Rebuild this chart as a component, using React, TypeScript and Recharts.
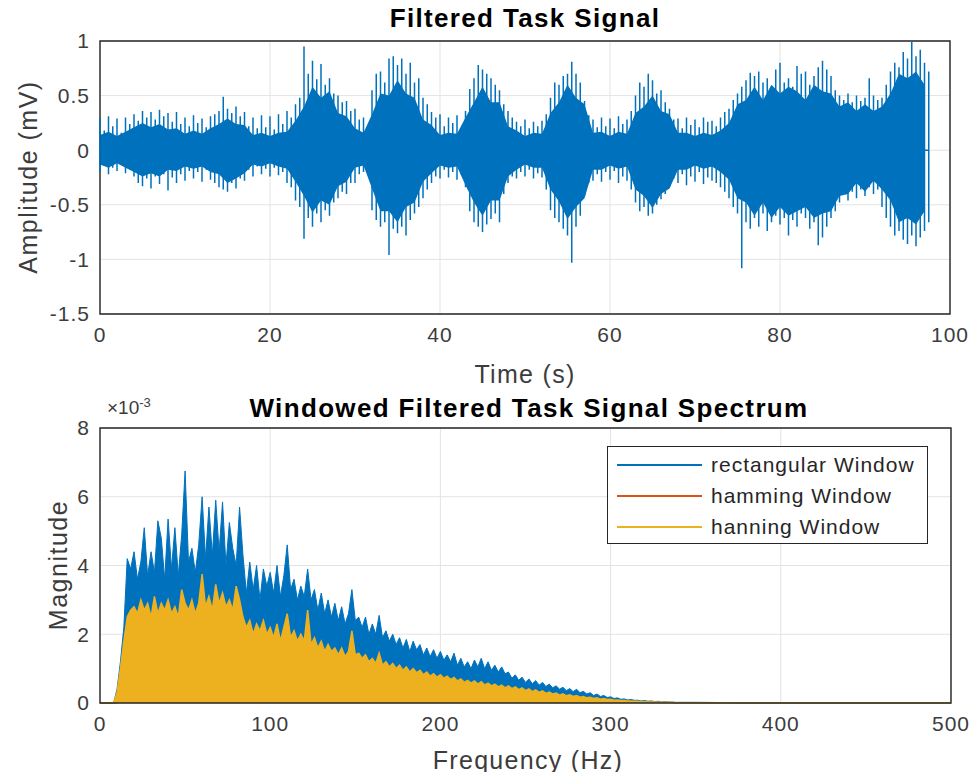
import React from "react";
import {
  ComposedChart,
  Area,
  Line,
  XAxis,
  YAxis,
  CartesianGrid,
  ReferenceArea,
  Legend,
} from "recharts";

const BLUE = "#0072BD";
const ORANGE = "#D95319";
const YELLOW = "#EDB120";
const FONT = '"Liberation Sans", Arial, Helvetica, sans-serif';

// ---- Filtered task signal (mV) ----
const timeTicks = [0, 20, 40, 60, 80, 100];
const ampTicks = [-1.5, -1, -0.5, 0, 0.5, 1];

// spike peaks, one every 0.5 s (t = 0 .. 97.5)
const spikeHi = [
  0.30, 0.18, 0.31, 0.22, 0.29, 0.16, 0.30, 0.24, 0.33, 0.27,
  0.36, 0.30, 0.35, 0.28, 0.37, 0.31, 0.34, 0.26, 0.35, 0.24,
  0.30, 0.22, 0.32, 0.25, 0.29, 0.21, 0.31, 0.33, 0.36, 0.49,
  0.38, 0.34, 0.40, 0.31, 0.35, 0.22, 0.30, 0.20, 0.32, 0.21,
  0.31, 0.19, 0.33, 0.24, 0.36, 0.30, 0.42, 0.48, 0.95, 0.70,
  0.82, 0.65, 0.79, 0.60, 0.66, 0.52, 0.50, 0.44, 0.45, 0.36,
  0.38, 0.28, 0.30, 0.22, 0.55, 0.70, 0.72, 0.62, 0.84, 0.86,
  0.78, 0.84, 0.70, 0.80, 0.62, 0.66, 0.48, 0.42, 0.35, 0.30,
  0.33, 0.22, 0.30, 0.25, 0.32, 0.20, 0.36, 0.56, 0.66, 0.78,
  0.74, 0.70, 0.66, 0.60, 0.55, 0.42, 0.36, 0.30, 0.26, 0.22,
  0.28, 0.20, 0.26, 0.22, 0.27, 0.33, 0.48, 0.62, 0.60, 0.68,
  0.70, 0.81, 0.70, 0.62, 0.45, 0.32, 0.28, 0.21, 0.30, 0.22,
  0.29, 0.20, 0.31, 0.24, 0.28, 0.36, 0.50, 0.62, 0.58, 0.70,
  0.64, 0.52, 0.55, 0.44, 0.38, 0.28, 0.29, 0.20, 0.30, 0.23,
  0.28, 0.21, 0.30, 0.26, 0.27, 0.22, 0.30, 0.35, 0.38, 0.46,
  0.52, 0.58, 0.64, 0.71, 0.68, 0.72, 0.62, 0.66, 0.58, 0.74,
  0.80, 0.62, 0.66, 0.58, 0.77, 0.70, 0.72, 0.60, 0.68, 0.76,
  0.82, 0.74, 0.68, 0.55, 0.50, 0.46, 0.52, 0.44, 0.50, 0.45,
  0.48, 0.66, 0.50, 0.46, 0.48, 0.60, 0.72, 0.80, 0.76, 0.90,
  0.84, 0.99, 0.86, 0.92, 0.80, 0.72,
];

const spikeLo = [
  -0.20, -0.14, -0.22, -0.16, -0.19, -0.13, -0.21, -0.17, -0.24, -0.30,
  -0.33, -0.26, -0.35, -0.24, -0.31, -0.22, -0.37, -0.25, -0.30, -0.22,
  -0.28, -0.19, -0.26, -0.20, -0.29, -0.18, -0.27, -0.30, -0.34, -0.36,
  -0.38, -0.30, -0.35, -0.26, -0.28, -0.18, -0.24, -0.15, -0.22, -0.17,
  -0.24, -0.16, -0.23, -0.20, -0.30, -0.34, -0.46, -0.52, -0.81, -0.62,
  -0.70, -0.58, -0.66, -0.55, -0.60, -0.48, -0.44, -0.38, -0.40, -0.30,
  -0.30, -0.22, -0.20, -0.14, -0.55, -0.64, -0.70, -0.66, -0.96, -0.72,
  -0.76, -0.70, -0.78, -0.64, -0.58, -0.52, -0.44, -0.36, -0.30, -0.24,
  -0.26, -0.18, -0.25, -0.20, -0.27, -0.22, -0.34, -0.56, -0.66, -0.70,
  -0.75, -0.68, -0.63, -0.58, -0.66, -0.40, -0.30, -0.24, -0.26, -0.20,
  -0.24, -0.18, -0.26, -0.21, -0.25, -0.36, -0.55, -0.62, -0.66, -0.72,
  -0.78, -1.03, -0.70, -0.60, -0.42, -0.30, -0.28, -0.22, -0.29, -0.20,
  -0.27, -0.19, -0.30, -0.24, -0.28, -0.36, -0.48, -0.56, -0.52, -0.60,
  -0.58, -0.50, -0.45, -0.40, -0.34, -0.26, -0.30, -0.22, -0.32, -0.24,
  -0.29, -0.20, -0.31, -0.25, -0.28, -0.30, -0.34, -0.38, -0.44, -0.52,
  -0.58, -1.08, -0.66, -0.72, -0.62, -0.70, -0.58, -0.74, -0.66, -0.60,
  -0.68, -0.62, -0.78, -0.64, -0.70, -0.58, -0.62, -0.72, -0.66, -0.87,
  -0.80, -0.70, -0.62, -0.56, -0.48, -0.40, -0.46, -0.38, -0.44, -0.36,
  -0.42, -0.34, -0.40, -0.36, -0.52, -0.62, -0.70, -0.78, -0.74, -0.82,
  -0.86, -0.78, -0.88, -0.80, -0.74, -0.66,
];

// dense core of the signal, one value per second (t = 0 .. 97)
const coreHi = [
  0.14, 0.17, 0.13, 0.17, 0.21, 0.25, 0.21, 0.24, 0.19, 0.20,
  0.15, 0.18, 0.15, 0.20, 0.24, 0.29, 0.24, 0.23, 0.14, 0.16,
  0.13, 0.16, 0.17, 0.27, 0.40, 0.58, 0.48, 0.54, 0.34, 0.31,
  0.20, 0.16, 0.33, 0.52, 0.50, 0.64, 0.52, 0.48, 0.28, 0.23,
  0.14, 0.16, 0.15, 0.30, 0.44, 0.58, 0.44, 0.44, 0.22, 0.18,
  0.13, 0.16, 0.15, 0.34, 0.44, 0.60, 0.48, 0.42, 0.16, 0.17,
  0.13, 0.17, 0.15, 0.34, 0.40, 0.50, 0.36, 0.33, 0.16, 0.16,
  0.13, 0.16, 0.14, 0.18, 0.25, 0.42, 0.46, 0.58, 0.46, 0.60,
  0.52, 0.58, 0.54, 0.46, 0.60, 0.54, 0.52, 0.40, 0.44, 0.36,
  0.42, 0.36, 0.40, 0.52, 0.70, 0.66, 0.72, 0.60,
];

const coreLo = [
  -0.13, -0.16, -0.12, -0.16, -0.20, -0.24, -0.21, -0.24, -0.18, -0.19,
  -0.15, -0.17, -0.15, -0.20, -0.22, -0.30, -0.26, -0.21, -0.13, -0.15,
  -0.12, -0.15, -0.17, -0.29, -0.42, -0.57, -0.46, -0.50, -0.33, -0.29,
  -0.16, -0.14, -0.35, -0.56, -0.56, -0.66, -0.52, -0.48, -0.29, -0.21,
  -0.14, -0.16, -0.15, -0.32, -0.48, -0.60, -0.46, -0.46, -0.24, -0.18,
  -0.13, -0.16, -0.16, -0.36, -0.47, -0.63, -0.52, -0.44, -0.18, -0.18,
  -0.14, -0.17, -0.15, -0.36, -0.42, -0.53, -0.40, -0.35, -0.18, -0.18,
  -0.14, -0.17, -0.15, -0.20, -0.27, -0.44, -0.48, -0.60, -0.48, -0.62,
  -0.52, -0.60, -0.56, -0.52, -0.62, -0.58, -0.56, -0.42, -0.40, -0.30,
  -0.38, -0.28, -0.36, -0.46, -0.66, -0.62, -0.68, -0.56,
];

// ---- Spectrum (magnitude x 1e-3), one value every 2 Hz from 0 to 340 Hz ----
const freqTicks = [0, 100, 200, 300, 400, 500];
const magTicks = [0, 2, 4, 6, 8];

const rectMag = [
  0, 0, 0, 0, 0, 0.4, 1.2, 2.2, 4.2, 3.9,
  4.4, 3.6, 4.1, 5.1, 3.7, 4.4, 3.8, 5.3, 4.8, 3.6,
  5.35, 3.9, 5.1, 3.7, 4.9, 6.75, 4.1, 4.5, 3.8, 4.6,
  6.0, 4.2, 5.7, 4.3, 5.9, 4.4, 5.85, 4.0, 5.25, 4.5,
  4.0, 5.7, 4.3, 3.2, 4.1, 3.3, 4.0, 3.0, 3.9, 3.4,
  3.8, 3.2, 4.0, 3.1, 3.7, 4.6, 3.3, 3.6, 3.0, 3.4,
  3.1, 3.9, 3.0, 3.3, 2.7, 3.2, 2.6, 3.0, 2.5, 2.9,
  2.4, 2.8, 2.3, 2.6, 3.3, 2.4, 2.5, 2.2, 2.5, 2.0,
  2.3, 2.0, 2.55, 1.9, 2.1, 1.8, 2.0, 1.7, 1.9, 1.6,
  1.85, 1.5, 1.8, 1.55, 1.7, 1.4, 1.6, 1.35, 1.55, 1.3,
  1.5, 1.25, 1.4, 1.2, 1.45, 1.1, 1.3, 1.05, 1.2, 1.0,
  1.25, 1.05, 1.3, 1.0, 1.2, 0.95, 1.1, 0.9, 1.05, 0.85,
  0.9, 0.72, 0.82, 0.66, 0.75, 0.6, 0.7, 0.56, 0.65, 0.52,
  0.6, 0.48, 0.55, 0.44, 0.5, 0.4, 0.46, 0.36, 0.42, 0.33,
  0.4, 0.3, 0.34, 0.26, 0.3, 0.22, 0.26, 0.19, 0.22, 0.16,
  0.18, 0.13, 0.15, 0.11, 0.12, 0.09, 0.1, 0.08, 0.08, 0.06,
  0.07, 0.05, 0.06, 0.04, 0.05, 0.03, 0.04, 0.03, 0.03, 0.02,
  0.02,
];

const hannMag = [
  0, 0, 0, 0, 0, 0.3, 1.0, 1.8, 2.5, 2.7,
  2.8, 2.6, 3.0, 2.7, 2.9, 2.5, 3.1, 2.6, 2.9, 2.7,
  3.0, 2.6, 2.8, 2.5, 3.3, 2.9, 2.7, 3.0, 2.6, 2.9,
  3.75, 2.8, 3.1, 2.7, 3.45, 2.9, 3.2, 2.8, 3.0, 2.7,
  3.4, 3.0, 2.5, 2.2, 2.4, 2.0, 2.3, 2.1, 2.4, 2.0,
  2.2, 1.9, 2.3, 1.8, 2.2, 2.6, 1.9, 2.1, 1.8, 2.0,
  1.8, 2.7, 1.7, 1.9, 1.6, 1.8, 1.5, 1.7, 1.5, 1.6,
  1.4, 1.6, 1.35, 1.5, 2.1, 1.4, 1.45, 1.3, 1.4, 1.2,
  1.3, 1.15, 1.45, 1.1, 1.2, 1.05, 1.15, 1.0, 1.1, 0.95,
  1.05, 0.9, 1.0, 0.88, 0.95, 0.82, 0.9, 0.78, 0.85, 0.75,
  0.82, 0.72, 0.78, 0.68, 0.74, 0.64, 0.7, 0.6, 0.66, 0.58,
  0.64, 0.55, 0.62, 0.52, 0.58, 0.5, 0.55, 0.47, 0.52, 0.44,
  0.5, 0.42, 0.47, 0.39, 0.44, 0.36, 0.41, 0.33, 0.38, 0.31,
  0.35, 0.28, 0.32, 0.26, 0.29, 0.23, 0.27, 0.21, 0.24, 0.19,
  0.22, 0.17, 0.19, 0.15, 0.17, 0.13, 0.15, 0.11, 0.13, 0.1,
  0.11, 0.08, 0.09, 0.07, 0.07, 0.06, 0.06, 0.05, 0.05, 0.04,
  0.04, 0.03, 0.03, 0.03, 0.02, 0.02, 0.02, 0.02, 0.02, 0.01,
  0.01,
];

// hamming spectrum, one value every 10 Hz from 0 to 340 Hz
const hammMag = [
  0, 0, 2.5, 2.6, 2.6, 2.6, 2.7, 2.7, 2.6, 2.0,
  1.9, 1.8, 1.65, 1.5, 1.35, 1.25, 1.1, 0.98, 0.86, 0.76,
  0.68, 0.6, 0.52, 0.46, 0.4, 0.34, 0.26, 0.21, 0.15, 0.11,
  0.07, 0.05, 0.03, 0.02, 0.01,
];

// near-zero tail above 340 Hz
const tailFreq = [350, 375, 400, 425, 450, 475, 500];
const rectTail = [0.02, 0.01, 0.01, 0.01, 0.01, 0.01, 0.01];
const hammTail = [0.01, 0.01, 0.01, 0.01, 0.01, 0.01, 0.01];
const hannTail = [0.01, 0.01, 0.01, 0.01, 0.01, 0.01, 0.01];

const legendItems = [
  { name: "rectangular Window", color: BLUE },
  { name: "hamming Window", color: ORANGE },
  { name: "hanning Window", color: YELLOW },
];

// ---- tables for recharts ----
const coreData = coreHi.map((h, i) => ({ t: i, core: [coreLo[i], h] }));

const spikeData = spikeHi.flatMap((h, i) => {
  const t = i * 0.5;
  return [
    { t, s: 0 },
    { t, s: h },
    { t, s: spikeLo[i] },
    { t, s: 0 },
  ];
});

const spectrumData = [
  ...rectMag.map((r, i) => ({
    f: i * 2,
    rect: r,
    hann: hannMag[i],
    hamm: i % 5 === 0 ? hammMag[i / 5] : null,
  })),
  ...tailFreq.map((f, i) => ({
    f,
    rect: rectTail[i],
    hann: hannTail[i],
    hamm: hammTail[i],
  })),
];

const W = 977;
const TOP_H = 380;
const BOT_H = 400;
const topMargin = { top: 41, right: 27, bottom: 0, left: 0 };
const botMargin = { top: 48, right: 26, bottom: 0, left: 0 };
const tickStyle = { fontSize: 21, fill: "#3c3c3c", fontFamily: FONT, letterSpacing: 1 };
const GRID = "#e3e3e3";
const BOX = "#262626";

function LegendBox() {
  return (
    <div
      style={{
        width: 321,
        height: 98,
        boxSizing: "border-box",
        border: `1.5px solid ${BOX}`,
        background: "#fff",
        paddingTop: 2,
        paddingLeft: 9,
        fontFamily: FONT,
      }}
    >
      {legendItems.map((it) => (
        <div key={it.name} style={{ display: "flex", alignItems: "center", height: 31 }}>
          <div style={{ width: 85, height: 2, background: it.color, marginRight: 9 }} />
          <span style={{ fontSize: 21, color: "#262626", letterSpacing: 1 }}>{it.name}</span>
        </div>
      ))}
    </div>
  );
}

const abs = (left: number, top: number): React.CSSProperties => ({
  position: "absolute",
  left,
  top,
});

export default function App() {
  return (
    <div
      style={{
        position: "relative",
        width: W,
        height: 780,
        margin: -8,
        background: "#fff",
        fontFamily: FONT,
        overflow: "hidden",
      }}
    >
      {/* top: signal core + axes */}
      <div style={abs(0, 0)}>
        <ComposedChart width={W} height={TOP_H} data={coreData} margin={topMargin}>
          <CartesianGrid stroke={GRID} />
          <XAxis
            dataKey="t"
            type="number"
            domain={[0, 100]}
            ticks={timeTicks}
            interval={0}
            height={66}
            tickSize={0}
            tickMargin={13}
            axisLine={false}
            tick={tickStyle}
          />
          <YAxis
            type="number"
            domain={[-1.5, 1]}
            ticks={ampTicks}
            interval={0}
            width={100}
            tickSize={0}
            tickMargin={10}
            axisLine={false}
            tick={tickStyle}
          />
          <Area
            dataKey="core"
            type="linear"
            stroke="none"
            fill={BLUE}
            fillOpacity={1}
            isAnimationActive={false}
          />
        </ComposedChart>
      </div>

      {/* top: spikes + frame */}
      <div style={abs(0, 0)}>
        <ComposedChart width={W} height={TOP_H} data={spikeData} margin={topMargin}>
          <XAxis
            dataKey="t"
            type="number"
            domain={[0, 100]}
            ticks={timeTicks}
            height={66}
            tick={false}
            tickLine={false}
            axisLine={false}
          />
          <YAxis
            type="number"
            domain={[-1.5, 1]}
            ticks={ampTicks}
            width={100}
            tick={false}
            tickLine={false}
            axisLine={false}
          />
          <Line
            dataKey="s"
            type="linear"
            stroke={BLUE}
            strokeWidth={1.5}
            dot={false}
            isAnimationActive={false}
          />
          <ReferenceArea x1={0} x2={100} y1={-1.5} y2={1} fill="none" stroke={BOX} strokeWidth={1.4} />
        </ComposedChart>
      </div>

      {/* bottom: spectrum */}
      <div style={abs(0, 380)}>
        <ComposedChart width={W} height={BOT_H} data={spectrumData} margin={botMargin}>
          <CartesianGrid stroke={GRID} />
          <XAxis
            dataKey="f"
            type="number"
            domain={[0, 500]}
            ticks={freqTicks}
            interval={0}
            height={77}
            tickSize={0}
            tickMargin={13}
            axisLine={false}
            tick={tickStyle}
          />
          <YAxis
            type="number"
            domain={[0, 8]}
            ticks={magTicks}
            interval={0}
            width={100}
            tickSize={0}
            tickMargin={10}
            axisLine={false}
            tick={tickStyle}
          />
          <Area
            dataKey="rect"
            type="linear"
            stroke={BLUE}
            strokeWidth={1}
            fill={BLUE}
            fillOpacity={1}
            isAnimationActive={false}
          />
          <Area
            dataKey="hamm"
            type="linear"
            connectNulls
            stroke={ORANGE}
            strokeWidth={1}
            fill={ORANGE}
            fillOpacity={1}
            isAnimationActive={false}
          />
          <Area
            dataKey="hann"
            type="linear"
            stroke={YELLOW}
            strokeWidth={1.5}
            fill={YELLOW}
            fillOpacity={1}
            isAnimationActive={false}
          />
          <ReferenceArea x1={0} x2={500} y1={0} y2={8} fill="none" stroke={BOX} strokeWidth={1.4} />
          <Legend
            layout="horizontal"
            verticalAlign="middle"
            align="center"
            wrapperStyle={{ position: "absolute", left: 607, top: 66, width: 321, height: 98 }}
            content={() => <LegendBox />}
          />
        </ComposedChart>
      </div>

      {/* titles and axis labels */}
      <div
        style={{
          ...abs(525, 18),
          transform: "translate(-50%, -50%)",
          fontSize: 26,
          fontWeight: "bold",
          letterSpacing: 1.35,
          color: "#000",
          whiteSpace: "nowrap",
          lineHeight: 1,
        }}
      >
        Filtered Task Signal
      </div>
      <div
        style={{
          ...abs(525, 374),
          transform: "translate(-50%, -50%)",
          fontSize: 25,
          letterSpacing: 1.3,
          color: "#3c3c3c",
          whiteSpace: "nowrap",
          lineHeight: 1,
        }}
      >
        Time (s)
      </div>
      <div
        style={{
          ...abs(28, 177),
          transform: "translate(-50%, -50%) rotate(-90deg)",
          fontSize: 25,
          letterSpacing: 1.5,
          color: "#3c3c3c",
          whiteSpace: "nowrap",
          lineHeight: 1,
        }}
      >
        Amplitude (mV)
      </div>
      <div
        style={{
          ...abs(529, 408),
          transform: "translate(-50%, -50%)",
          fontSize: 26,
          fontWeight: "bold",
          letterSpacing: 1.35,
          color: "#000",
          whiteSpace: "nowrap",
          lineHeight: 1,
        }}
      >
        Windowed Filtered Task Signal Spectrum
      </div>
      <div
        style={{
          ...abs(107, 396),
          fontSize: 19,
          color: "#3c3c3c",
          whiteSpace: "nowrap",
          lineHeight: 1,
        }}
      >
        ×10<span style={{ fontSize: 13, verticalAlign: "super" }}>-3</span>
      </div>
      <div
        style={{
          ...abs(528, 760),
          transform: "translate(-50%, -50%)",
          fontSize: 25,
          letterSpacing: 1.3,
          color: "#3c3c3c",
          whiteSpace: "nowrap",
          lineHeight: 1,
        }}
      >
        Frequency (Hz)
      </div>
      <div
        style={{
          ...abs(58, 565),
          transform: "translate(-50%, -50%) rotate(-90deg)",
          fontSize: 25,
          letterSpacing: 1.5,
          color: "#3c3c3c",
          whiteSpace: "nowrap",
          lineHeight: 1,
        }}
      >
        Magnitude
      </div>
    </div>
  );
}
